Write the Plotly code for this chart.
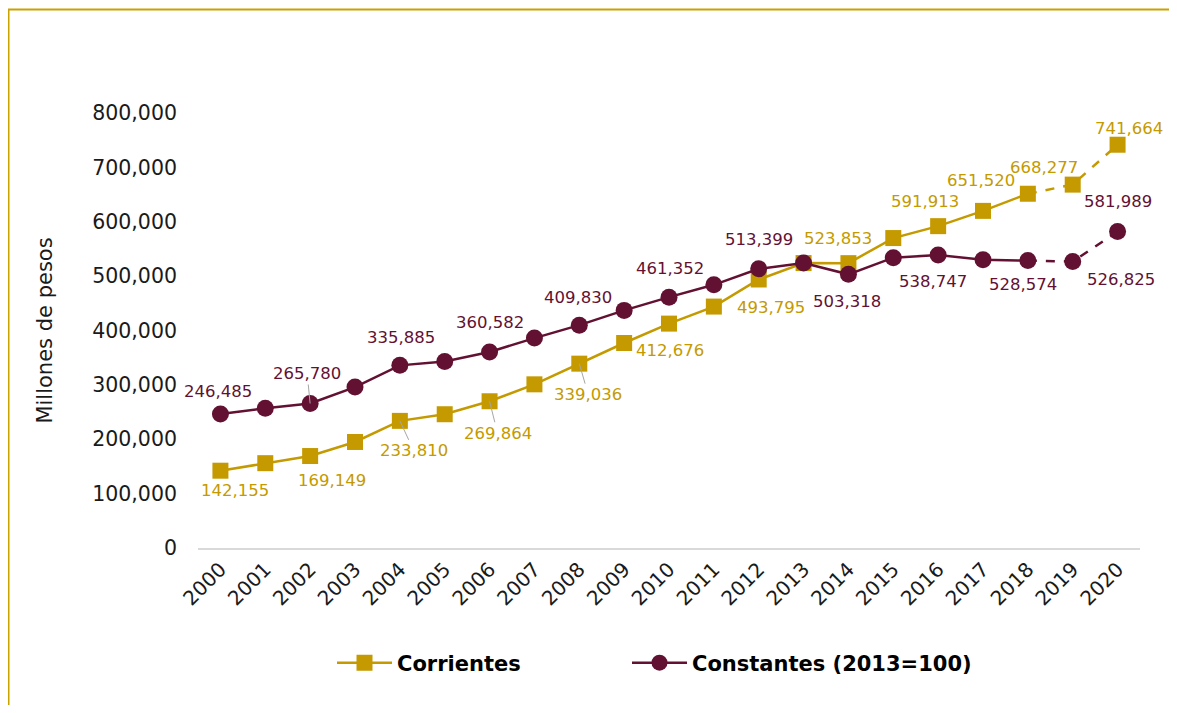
import plotly.graph_objects as go

years = list(range(2000, 2021))
corrientes = [142155, 156000, 169149, 195000, 233810, 246000, 269864, 301000, 339036, 377000,
              412676, 444000, 493795, 524000, 523853, 570000, 591913, 620000, 651520, 668277, 741664]
constantes = [246485, 257000, 265780, 296000, 335885, 343000, 360582, 386000, 409830, 437000,
              461352, 484000, 513399, 524000, 503318, 534000, 538747, 530000, 528574, 526825, 581989]

series_names = ["Corrientes", "Constantes (2013=100)"]
y_ticks = [0, 100000, 200000, 300000, 400000, 500000, 600000, 700000, 800000]

GOLD = "#C49A00"
MAROON = "#631132"
FONT = "DejaVu Sans"

solid_end = 18   # index of 2018: dashed after that
# label offsets (dx, dy px) and whether a grey leader line is drawn
lab_corr = {0: (15, 20, False), 2: (22, 24, False), 4: (14, 30, True), 6: (8, 32, True),
            8: (9, 31, True), 10: (1, 27, False), 12: (12, 28, False), 14: (-10, -25, False),
            16: (-13, -25, False), 18: (-47, -13, False), 19: (-29, -17, False), 20: (11, -16, False)}
lab_cons = {0: (-2, -22, False), 2: (-3, -30, True), 4: (1, -28, False), 6: (0, -29, False),
            8: (-1, -28, False), 10: (1, -29, False), 12: (0, -29, False), 14: (-1, 27, False),
            16: (-5, 26, False), 18: (-5, 24, False), 19: (48, 18, False), 20: (0, -30, False)}

fig = go.Figure()

for vals, col, sym, size, name, lg in ((corrientes, GOLD, "square", 16, series_names[0], "legend"),
                                      (constantes, MAROON, "circle", 17, series_names[1], "legend2")):
    # dashed tail 2018-2020
    fig.add_trace(go.Scatter(x=years[solid_end:], y=vals[solid_end:], mode="lines",
                             line=dict(color=col, width=2.5, dash="dash"),
                             showlegend=False, hoverinfo="skip"))
    # solid part with markers (legend entry)
    fig.add_trace(go.Scatter(x=years[:solid_end + 1], y=vals[:solid_end + 1], mode="lines+markers",
                             name=name, legend=lg,
                             line=dict(color=col, width=2.5),
                             marker=dict(symbol=sym, size=size, color=col)))
    # markers of the dashed tail
    fig.add_trace(go.Scatter(x=years[solid_end + 1:], y=vals[solid_end + 1:], mode="markers",
                             marker=dict(symbol=sym, size=size, color=col),
                             showlegend=False))

for vals, labs, col in ((corrientes, lab_corr, GOLD), (constantes, lab_cons, MAROON)):
    for i, (dx, dy, lead) in labs.items():
        if lead:
            fig.add_annotation(x=years[i], y=vals[i], text=f"{vals[i]:,}", showarrow=True,
                               ax=dx, ay=dy, arrowhead=0, arrowwidth=1, arrowcolor="#A6A6A6",
                               font=dict(family=FONT, size=16.5, color=col))
        else:
            fig.add_annotation(x=years[i], y=vals[i], text=f"{vals[i]:,}", showarrow=False,
                               xshift=dx, yshift=-dy,
                               font=dict(family=FONT, size=16.5, color=col))

# page offset of the figure (body margin) is 8px
OFF = 8
FW, FH = 1177 - OFF, 713 - 2 * OFF
L, T, W, H = 198 - OFF, 113 - OFF, 942, 435

# frame (gold border on top and left of the page)
fig.add_shape(type="rect", xref="paper", yref="paper",
              x0=(0.5 - L) / W, x1=(FW + 20 - L) / W, y0=-(FH + 20 - T - H) / H, y1=(T + H - 1.5) / H,
              line=dict(color="#C9A200", width=2), fillcolor="rgba(0,0,0,0)", layer="below")

leg_font = dict(family=FONT, size=21, color="#000000", weight="bold")
fig.update_layout(
    width=FW, height=FH,
    margin=dict(l=L, r=FW - L - W, t=T, b=FH - T - H),
    paper_bgcolor="white", plot_bgcolor="white",
    font=dict(family=FONT, color="#1a1a1a"),
    showlegend=True,
    legend=dict(orientation="h", x=(337 - OFF - 5 - L) / W, xanchor="left",
                y=(T + H - (663 - OFF)) / H, yanchor="middle", font=leg_font, itemwidth=55),
    legend2=dict(orientation="h", x=(633 - OFF - 6 - L) / W, xanchor="left",
                 y=(T + H - (663 - OFF)) / H, yanchor="middle", font=leg_font, itemwidth=55),
    xaxis=dict(range=[1999.5, 2020.5], tickvals=years, ticktext=[str(y) for y in years],
               tickangle=-45, showgrid=False,
               showline=True, linecolor="#D9D9D9", linewidth=1.5, ticks="",
               tickfont=dict(family=FONT, size=20, color="#1a1a1a"), zeroline=False),
    yaxis=dict(range=[0, 800000], tickvals=y_ticks, tickformat=",", showgrid=False,
               showline=False, zeroline=False, ticks="", ticklabelstandoff=20,
               tickfont=dict(family=FONT, size=20.5, color="#1a1a1a"),
               title=dict(text="Millones de pesos", standoff=33,
                          font=dict(family=FONT, size=21, color="#1a1a1a"))),
)

fig.write_html("out.html")
